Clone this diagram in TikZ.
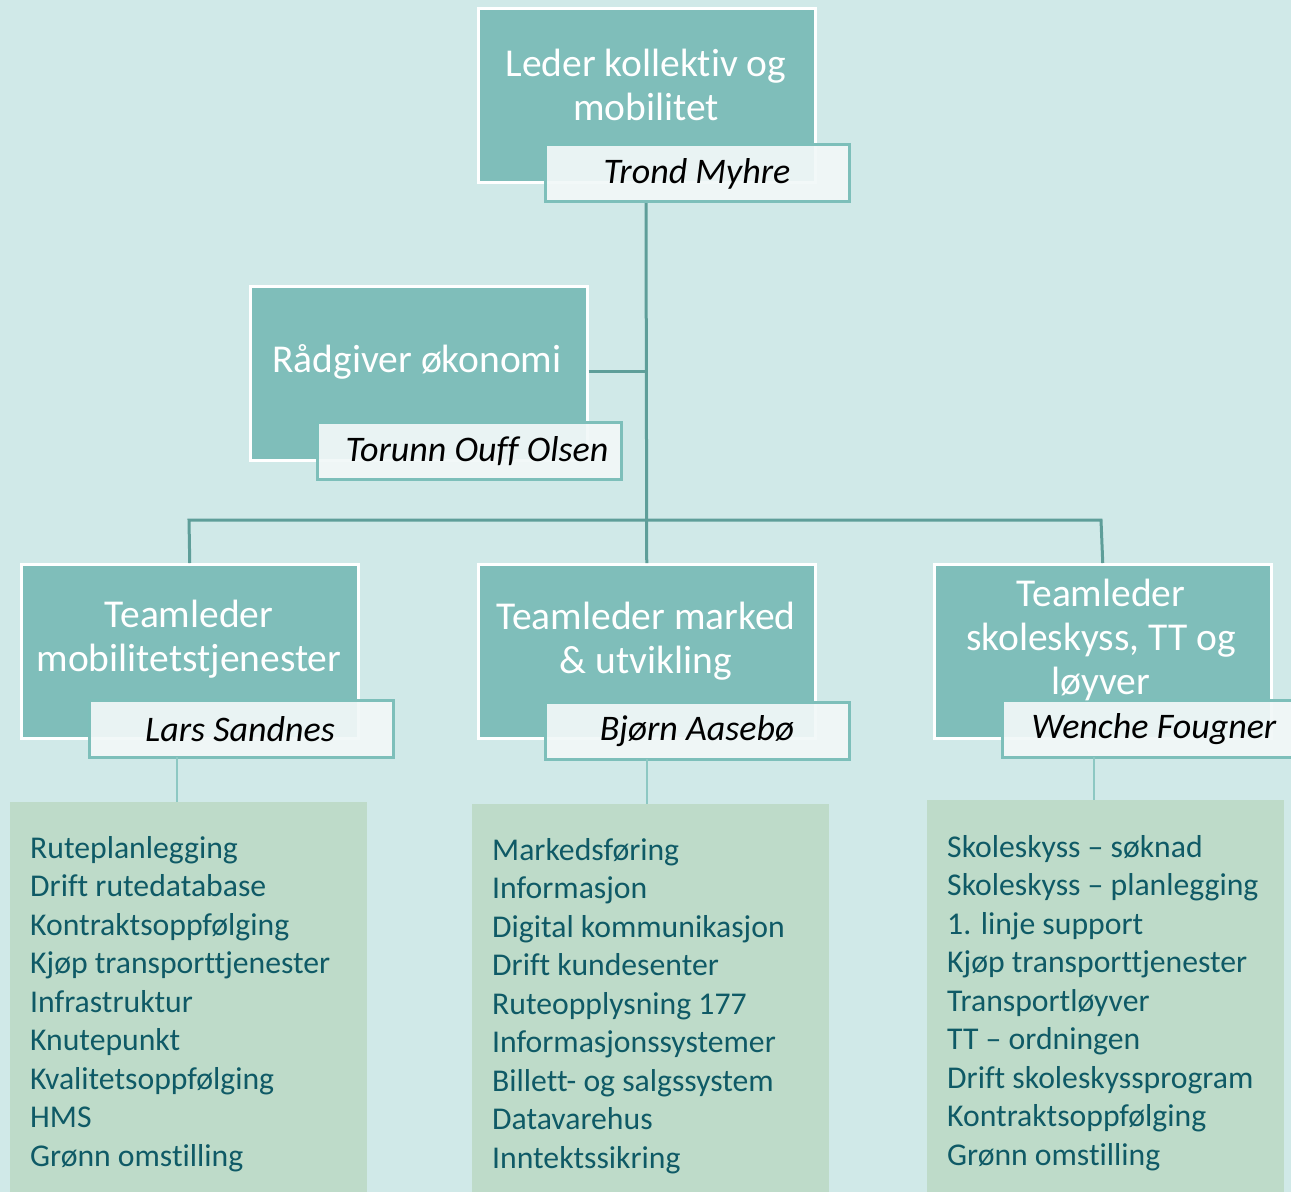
\documentclass[tikz,border=0pt]{standalone}
\usepackage{fontspec}
\setmainfont{Carlito}[Ligatures={NoCommon}]
\definecolor{bgc}{HTML}{D0E9E8}
\definecolor{boxc}{HTML}{7FBEBA}
\definecolor{listc}{HTML}{BEDBC9}
\definecolor{linec}{HTML}{5E9E99}
\definecolor{lightline}{HTML}{8DC8C3}
\definecolor{namebord}{HTML}{7DBFBA}
\definecolor{listtext}{HTML}{0F5A66}
\definecolor{namefill}{HTML}{F2F8F8}
\begin{document}
\begin{tikzpicture}[x=1pt,y=-1pt,
  rolebox/.style={draw=white,line width=2.5pt,fill=boxc,minimum width=337pt,minimum height=174pt,inner sep=0pt,anchor=north west},
  namebox/.style={draw=namebord,line width=2.5pt,fill=namefill,fill opacity=0.93,draw opacity=1,minimum width=304pt,minimum height=57pt,inner sep=0pt,anchor=north west},
  roletext/.style={text=white,font=\fontsize{39.5}{44}\selectfont,align=center,inner sep=0pt},
  nametext/.style={text=black,font=\fontsize{36}{40}\selectfont\itshape,inner sep=0pt,text opacity=1},
  listbox/.style={fill=listc,minimum width=357pt,inner sep=0pt,anchor=north west},
  listtext/.style={text=listtext,font=\fontsize{31.7}{38.5}\selectfont,align=left,inner sep=0pt,anchor=north west},
  conn/.style={draw=linec,line width=3pt},
  lconn/.style={draw=lightline,line width=2pt}]
\fill[bgc] (0,0) rectangle (1291,1192);
\useasboundingbox (0,0) rectangle (1291,1192);

% list boxes
\node[listbox,minimum height=390pt] (lb1) at (10,802) {};
\node[listbox,minimum height=388pt] (lb2) at (472,804) {};
\node[listbox,minimum height=392pt] (lb3) at (927,800) {};

% role boxes
\node[rolebox] (top) at (477,7) {};
\node[rolebox] (rad) at (249,285) {};
\node[rolebox] (t1) at (20,563) {};
\node[rolebox] (t2) at (477,563) {};
\node[rolebox] (t3) at (933,563) {};

% connectors (tree)
\coordinate (hl) at (189,520);
\coordinate (hr) at (1101,520);
\coordinate (hm) at (646,520);
\coordinate (rj) at (646,371);
\draw[conn] (646,201) -- (t2.north);
\draw[conn] (t1.north) -- (hl) -- (hr) -- (t3.north);
\draw[conn] (rad.east |- rj) -- (rj);

% name boxes
\node[namebox] (n0) at (544,143) {};
\node[namebox] (n1) at (316,421) {};
\node[namebox] (n2) at (88,699) {};
\node[namebox] (n3) at (544,701) {};
\node[namebox] (n4) at (1001,699) {};

% light connectors
\draw[lconn] (177,757) -- (177,802);
\draw[lconn] (647,759) -- (647,804);
\draw[lconn] (1094,757) -- (1094,800);

% role texts
\node[roletext] (tt0) at (646,85) {Leder kollektiv og\\mobilitet};
\node[roletext] (tt1) at (417,362) {Rådgiver økonomi};
\node[roletext] (tt2) at (189,639) {Teamleder\\mobilitetstjenester};
\node[roletext] (tt3) at (646,641) {Teamleder marked\\\& utvikling};
\node[roletext] (tt4) at (1101,640) {Teamleder\\skoleskyss, TT og\\løyver};

% name texts
\node[nametext] (m0) at (697,174) {Trond Myhre};
\node[nametext] (m1) at (477,451) {Torunn Ouff Olsen};
\node[nametext] (m2) at (240,729) {Lars Sandnes};
\node[nametext] (m3) at (697,731) {Bjørn Aasebø};
\node[nametext] (m4) at (1154,729) {Wenche Fougner};

% list texts
\node[listtext] (l1) at (30,836) {Ruteplanlegging\\Drift rutedatabase\\Kontraktsoppfølging\\Kjøp transporttjenester\\Infrastruktur\\Knutepunkt\\Kvalitetsoppfølging\\HMS\\Grønn omstilling};
\node[listtext] (l2) at (492,838) {Markedsføring\\Informasjon\\Digital kommunikasjon\\Drift kundesenter\\Ruteopplysning 177\\Informasjonssystemer\\Billett- og salgssystem\\Datavarehus\\Inntektssikring};
\node[listtext] (l3) at (947,835) {Skoleskyss – søknad\\Skoleskyss – planlegging\\1. linje support\\Kjøp transporttjenester\\Transportløyver\\TT – ordningen\\Drift skoleskyssprogram\\Kontraktsoppfølging\\Grønn omstilling};
\end{tikzpicture}
\end{document}
